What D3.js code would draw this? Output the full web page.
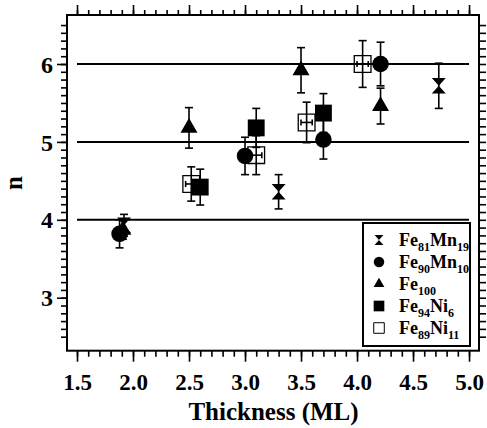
<!DOCTYPE html>
<html>
<head>
<meta charset="utf-8">
<script src="https://cdn.jsdelivr.net/npm/d3@7"></script>
<style>
  body { margin: 0; background: #fff; }
</style>
</head>
<body>
<script>
// series (thickness in ML, n, vertical error)
const fe81mn19X = [1.92, 3.30, 4.73]
const fe81mn19Y = [3.93, 4.36, 5.72]
const fe81mn19Err = [0.14, 0.22, 0.29]

const fe90mn10X = [1.88, 3.00, 3.70, 4.21]
const fe90mn10Y = [3.82, 4.82, 5.03, 6.00]
const fe90mn10Err = [0.18, 0.24, 0.25, 0.28]

const fe100X = [1.91, 2.50, 3.50, 4.21]
const fe100Y = [3.87, 5.18, 5.92, 5.46]
const fe100Err = [0.12, 0.26, 0.29, 0.23]

const fe94ni6X = [2.60, 3.10, 3.70]
const fe94ni6Y = [4.42, 5.18, 5.37]
const fe94ni6Err = [0.23, 0.25, 0.25]

const fe89ni11X = [2.52, 3.10, 3.55, 4.05]
const fe89ni11Y = [4.46, 4.83, 5.25, 6.00]
const fe89ni11Err = [0.22, 0.25, 0.26, 0.30]
const fe89ni11XErr = [0.05, 0.05, 0.05, 0.05]

const refLevels = [4, 5, 6]
const xTickLabels = ['1.5', '2.0', '2.5', '3.0', '3.5', '4.0', '4.5', '5.0']
const yTickLabels = ['3', '4', '5', '6']

const width = 487
const height = 428
const plot = { left: 67, top: 15, right: 479, bottom: 350.7 }
const serif = '"Liberation Serif", "Times New Roman", serif'

const x = d3.scaleLinear().domain([1.4107, 5.089]).range([plot.left, plot.right])
const y = d3.scaleLinear().domain([2.32, 6.629]).range([plot.bottom, plot.top])

const svg = d3.select('body').append('svg')
  .attr('width', width)
  .attr('height', height)

// hourglass marker: two triangles tip to tip
const symbolHourglass = {
  draw (context, size) {
    const w = Math.sqrt(size) / 2 * 0.9
    const h = Math.sqrt(size) / 2
    context.moveTo(-w, -h)
    context.lineTo(w, -h)
    context.lineTo(-w, h)
    context.lineTo(w, h)
    context.closePath()
  }
}

const series = [
  { name: ['Fe', '81', 'Mn', '19'], xs: fe81mn19X, ys: fe81mn19Y, err: fe81mn19Err, type: symbolHourglass, size: 240, fill: '#000' },
  { name: ['Fe', '90', 'Mn', '10'], xs: fe90mn10X, ys: fe90mn10Y, err: fe90mn10Err, type: d3.symbolCircle, size: 215, fill: '#000' },
  { name: ['Fe', '100'], xs: fe100X, ys: fe100Y, err: fe100Err, type: d3.symbolTriangle, size: 125, fill: '#000' },
  { name: ['Fe', '94', 'Ni', '6'], xs: fe94ni6X, ys: fe94ni6Y, err: fe94ni6Err, type: d3.symbolSquare, size: 285, fill: '#000' },
  { name: ['Fe', '89', 'Ni', '11'], xs: fe89ni11X, ys: fe89ni11Y, err: fe89ni11Err, xerr: fe89ni11XErr, type: d3.symbolSquare, size: 280, fill: 'none' }
]

/* ------- AXES ------- */
const xMinor = d3.range(15, 51).map(v => v / 10)
const xMajor = xTickLabels.map(Number)
const yMinor = d3.range(25, 66).map(v => v / 10)
const yMajor = yTickLabels.map(Number)

function styleAxis (g) {
  g.select('.domain').remove()
  g.attr('font-family', serif)
  g.selectAll('line').attr('stroke', '#000').attr('stroke-width', 1.6)
  g.selectAll('text').attr('fill', '#000').style('font-family', serif).style('font-weight', 'bold')
}

// bottom
svg.append('g').attr('transform', `translate(0,${plot.bottom})`)
  .call(d3.axisBottom(x).tickValues(xMinor).tickSize(6).tickFormat(''))
  .call(styleAxis)
svg.append('g').attr('transform', `translate(0,${plot.bottom})`)
  .call(d3.axisBottom(x).tickValues(xMajor).tickSize(11).tickFormat((d, i) => xTickLabels[i]))
  .call(styleAxis)
  .call(g => g.selectAll('text').attr('y', 39).attr('dy', 0).style('font-size', '23px'))

// top
svg.append('g').attr('transform', `translate(0,${plot.top})`)
  .call(d3.axisTop(x).tickValues(xMinor).tickSize(5).tickFormat(''))
  .call(styleAxis)
svg.append('g').attr('transform', `translate(0,${plot.top})`)
  .call(d3.axisTop(x).tickValues(xMajor).tickSize(10).tickFormat(''))
  .call(styleAxis)

// left
svg.append('g').attr('transform', `translate(${plot.left},0)`)
  .call(d3.axisLeft(y).tickValues(yMinor).tickSize(6).tickFormat(''))
  .call(styleAxis)
svg.append('g').attr('transform', `translate(${plot.left},0)`)
  .call(d3.axisLeft(y).tickValues(yMajor).tickSize(10).tickFormat((d, i) => yTickLabels[i]))
  .call(styleAxis)
  .call(g => g.selectAll('text').attr('x', -14).attr('dy', '0.34em').style('font-size', '24px'))

// right
svg.append('g').attr('transform', `translate(${plot.right},0)`)
  .call(d3.axisRight(y).tickValues(yMinor).tickSize(7).tickFormat(''))
  .call(styleAxis)

// frame
svg.append('rect')
  .attr('x', plot.left).attr('y', plot.top)
  .attr('width', plot.right - plot.left).attr('height', plot.bottom - plot.top)
  .attr('fill', 'none').attr('stroke', '#000').attr('stroke-width', 2)

/* ------- REFERENCE LINES ------- */
svg.append('g').selectAll('line').data(refLevels).enter().append('line')
  .attr('x1', x(1.5)).attr('x2', x(5.0))
  .attr('y1', d => y(d)).attr('y2', d => y(d))
  .attr('stroke', '#000').attr('stroke-width', 2)

/* ------- ERROR BARS + MARKERS ------- */
const cap = 4
series.forEach(s => {
  const pts = s.xs.map((v, i) => ({ x: v, y: s.ys[i], e: s.err[i], xe: s.xerr ? s.xerr[i] : 0 }))
  const g = svg.append('g')
  const bars = g.selectAll('g.err').data(pts).enter().append('g').attr('class', 'err')
    .attr('stroke', '#000').attr('stroke-width', 1.6)
  bars.append('line')
    .attr('x1', d => x(d.x)).attr('x2', d => x(d.x))
    .attr('y1', d => y(d.y + d.e)).attr('y2', d => y(d.y - d.e))
  bars.append('line')
    .attr('x1', d => x(d.x) - cap).attr('x2', d => x(d.x) + cap)
    .attr('y1', d => y(d.y + d.e)).attr('y2', d => y(d.y + d.e))
  bars.append('line')
    .attr('x1', d => x(d.x) - cap).attr('x2', d => x(d.x) + cap)
    .attr('y1', d => y(d.y - d.e)).attr('y2', d => y(d.y - d.e))

  g.selectAll('path').data(pts).enter().append('path')
    .attr('transform', d => `translate(${x(d.x)},${y(d.y)})`)
    .attr('d', d3.symbol().type(s.type).size(s.size))
    .attr('fill', s.fill)
    .attr('stroke', '#000')
    .attr('stroke-width', s.fill === 'none' ? 1.3 : 0)

  if (s.xerr) {
    const hb = g.selectAll('g.xerr').data(pts).enter().append('g').attr('class', 'xerr')
      .attr('stroke', '#000').attr('stroke-width', 1.6)
    hb.append('line')
      .attr('x1', d => x(d.x - d.xe)).attr('x2', d => x(d.x + d.xe))
      .attr('y1', d => y(d.y)).attr('y2', d => y(d.y))
    hb.append('line')
      .attr('x1', d => x(d.x - d.xe)).attr('x2', d => x(d.x - d.xe))
      .attr('y1', d => y(d.y) - 3).attr('y2', d => y(d.y) + 3)
    hb.append('line')
      .attr('x1', d => x(d.x + d.xe)).attr('x2', d => x(d.x + d.xe))
      .attr('y1', d => y(d.y) - 3).attr('y2', d => y(d.y) + 3)
  }
})

/* ------- AXIS TITLES ------- */
svg.append('text')
  .attr('x', 273.5).attr('y', 420)
  .attr('text-anchor', 'middle')
  .style('font-family', serif).style('font-weight', 'bold')
  .style('font-size', '25px')
  .text('Thickness (ML)')

svg.append('text')
  .attr('transform', 'translate(22,183) rotate(-90)')
  .attr('text-anchor', 'middle')
  .style('font-family', serif).style('font-weight', 'bold')
  .style('font-size', '25px')
  .text('n')

/* ------- LEGEND ------- */
const legend = svg.append('g')
legend.append('rect')
  .attr('x', 363).attr('y', 223).attr('width', 107).attr('height', 123)
  .attr('fill', '#fff').attr('stroke', '#000').attr('stroke-width', 2)

const rowY = d3.scalePoint().domain(series.map((s, i) => i)).range([240, 328])
const rows = legend.selectAll('g.row').data(series).enter().append('g').attr('class', 'row')
  .attr('transform', (d, i) => `translate(0,${rowY(i)})`)
rows.append('path')
  .attr('transform', 'translate(379,0)')
  .attr('d', d => d3.symbol().type(d.type).size(d.size * 0.4)())
  .attr('fill', d => d.fill === 'none' ? '#fff' : '#000')
  .attr('stroke', '#000')
  .attr('stroke-width', d => d.fill === 'none' ? 1 : 0)
const label = rows.append('text')
  .attr('x', 399).attr('y', 6)
  .style('font-family', serif).style('font-weight', 'bold')
  .style('font-size', '18px')
label.each(function (d) {
  const t = d3.select(this)
  d.name.forEach((part, k) => {
    const sub = k % 2 === 1
    t.append('tspan')
      .attr('dy', sub ? 5 : (k === 0 ? 0 : -5))
      .style('font-size', sub ? '12px' : '18px')
      .text(part)
  })
})
</script>
</body>
</html>
